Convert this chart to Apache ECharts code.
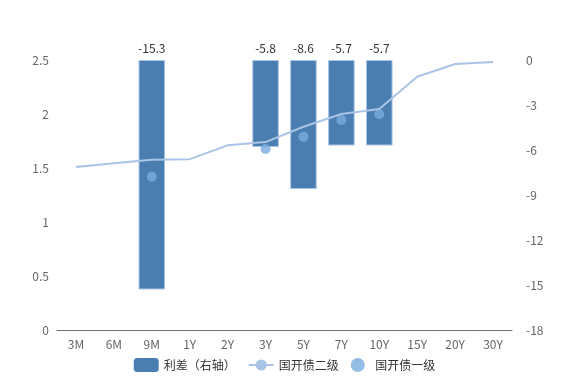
<!DOCTYPE html>
<html><head><meta charset="utf-8">
<script src="https://cdn.jsdelivr.net/npm/echarts@6/dist/echarts.min.js"></script>
<style>html,body{margin:0;padding:0;background:#fff}#c{width:569px;height:380px}</style>
</head><body><div id="c"></div>
<script>
var categories = ['3M','6M','9M','1Y','2Y','3Y','5Y','7Y','10Y','15Y','20Y','30Y'];
var spread = [null,null,-15.3,null,null,-5.8,-8.6,-5.7,-5.7,null,null,null];
var cdbTier2 = [1.51,1.545,1.576,1.582,1.71,1.74,1.882,2.0,2.046,2.345,2.463,2.481];
var cdbTier1 = [null,null,1.419,null,null,1.676,1.79,1.944,1.997,null,null,null];
var leftTicks = {min:0,max:2.5,interval:0.5};
var rightTicks = {min:-18,max:0,interval:3};

var chart = echarts.init(document.getElementById('c'));
var font = '"Noto Sans CJK SC","Noto Sans",sans-serif';
chart.setOption({
  animation:false,
  textStyle:{fontFamily:font},
  grid:{left:57,right:57,top:60,bottom:50},
  legend:{bottom:3,itemWidth:25,itemHeight:14,itemGap:12,textStyle:{color:'#333',fontSize:12,fontFamily:font},
    data:[{name:'利差（右轴）',itemStyle:{borderWidth:0}},'国开债二级','国开债一级']},
  xAxis:{type:'category',data:categories,boundaryGap:true,
    axisLine:{lineStyle:{color:'#6E7079'}},axisTick:{lineStyle:{color:'#6E7079'}},
    axisLabel:{color:'#666',fontSize:12,margin:8}},
  yAxis:[
    {type:'value',min:leftTicks.min,max:leftTicks.max,interval:leftTicks.interval,splitLine:{show:false},
      axisLine:{show:false},axisTick:{show:false},axisLabel:{color:'#666',fontSize:12,margin:8}},
    {type:'value',min:rightTicks.min,max:rightTicks.max,interval:rightTicks.interval,splitLine:{show:false},
      axisLine:{show:false},axisTick:{show:false},axisLabel:{color:'#666',fontSize:12,margin:14}}
  ],
  series:[
    {name:'利差（右轴）',type:'bar',yAxisIndex:1,data:spread,barWidth:'70%',
      itemStyle:{color:'#4a7eb0',borderColor:'#a9c4e6',borderWidth:1},
      label:{show:true,position:'top',color:'#333',fontSize:12,distance:6}},
    {name:'国开债二级',type:'line',data:cdbTier2,symbol:'circle',symbolSize:8,showSymbol:false,
      lineStyle:{color:'#a9c4e6',width:2},itemStyle:{color:'#a9c4e6'}},
    {name:'国开债一级',type:'scatter',data:cdbTier1,symbol:'circle',symbolSize:10,
      itemStyle:{color:'#78acde'}}
  ]
});
</script></body></html>
